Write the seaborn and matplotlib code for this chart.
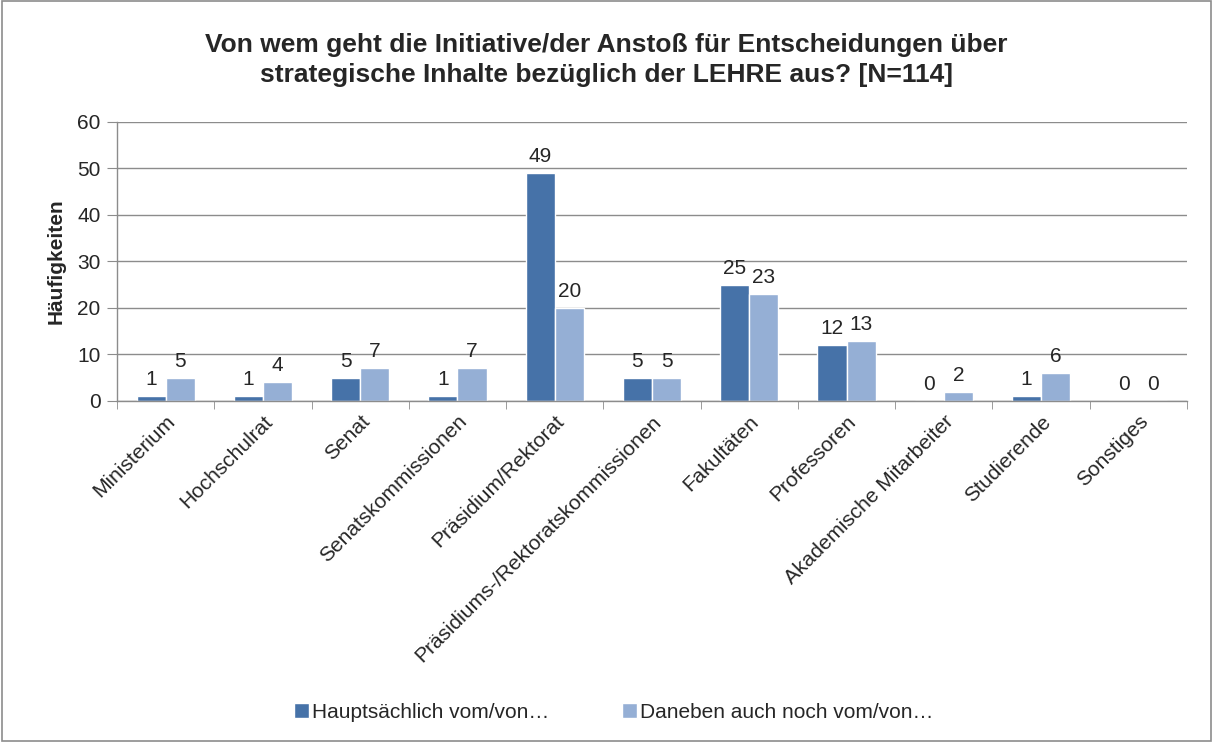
import pandas as pd
import seaborn as sns
import matplotlib.pyplot as plt
from matplotlib.patches import Rectangle

# Daten aus der Abbildung
kategorien = ['Ministerium', 'Hochschulrat', 'Senat', 'Senatskommissionen',
              'Präsidium/Rektorat', 'Präsidiums-/Rektoratskommissionen',
              'Fakultäten', 'Professoren', 'Akademische Mitarbeiter',
              'Studierende', 'Sonstiges']
hauptsaechlich = [1, 1, 5, 1, 49, 5, 25, 12, 0, 1, 0]
daneben = [5, 4, 7, 7, 20, 5, 23, 13, 2, 6, 0]
serien = ['Hauptsächlich vom/von…', 'Daneben auch noch vom/von…']
farben = ['#4672A8', '#95AFD5']

df = pd.DataFrame({
    'Kategorie': kategorien * 2,
    'Wert': hauptsaechlich + daneben,
    'Serie': [serien[0]] * len(kategorien) + [serien[1]] * len(kategorien),
})

sns.set_style('white')
plt.rcParams['font.family'] = ['Liberation Sans', 'DejaVu Sans']

fig = plt.figure(figsize=(12.13, 7.42), dpi=100)
ax = fig.add_axes([0.0965, 0.4596, 0.882, 0.376])

sns.barplot(data=df, x='Kategorie', y='Wert', hue='Serie', palette=farben,
            width=0.6, saturation=1, ax=ax, order=kategorien, hue_order=serien)

for c in ax.containers:
    ax.bar_label(c, padding=5, fontsize=15)

ax.set_ylim(0, 60)
ax.set_yticks(range(0, 61, 10))
ax.set_xlim(-0.5, len(kategorien) - 0.5)
ax.yaxis.grid(True, color='#8c8c8c', linewidth=1)
ax.set_axisbelow(True)
for s in ['top', 'right']:
    ax.spines[s].set_visible(False)
for s in ['left', 'bottom']:
    ax.spines[s].set_color('#8c8c8c')
    ax.spines[s].set_linewidth(1)

ax.tick_params(axis='y', labelsize=15, length=7, color='#8c8c8c', left=True, pad=5)
ax.tick_params(axis='x', which='major', length=0, labelsize=15, pad=8)
ax.set_xticks([i - 0.5 for i in range(len(kategorien) + 1)], minor=True)
ax.tick_params(axis='x', which='minor', length=6, color='#8c8c8c', bottom=True)
plt.setp(ax.get_xticklabels(), rotation=45, ha='right', rotation_mode='anchor')

ax.set_xlabel('')
ax.set_ylabel('Häufigkeiten', fontsize=15, fontweight='bold', labelpad=8)

fig.suptitle('Von wem geht die Initiative/der Anstoß für Entscheidungen über\n'
             'strategische Inhalte bezüglich der LEHRE aus? [N=114]',
             fontsize=19, fontweight='bold', y=0.955, linespacing=1.3)

handles, labels = ax.get_legend_handles_labels()
ax.get_legend().remove()
fig.legend(handles, labels, loc='center', bbox_to_anchor=(0.506, 0.04), ncol=2,
           frameon=False, fontsize=15, handlelength=0.7, handleheight=0.7,
           handletextpad=0.15, columnspacing=3.5)

fig.patches.append(Rectangle((0.002, 0.002), 0.996, 0.996, transform=fig.transFigure,
                             fill=False, edgecolor='#8c8c8c', linewidth=1.2))

fig.savefig('out.png', dpi=100)
